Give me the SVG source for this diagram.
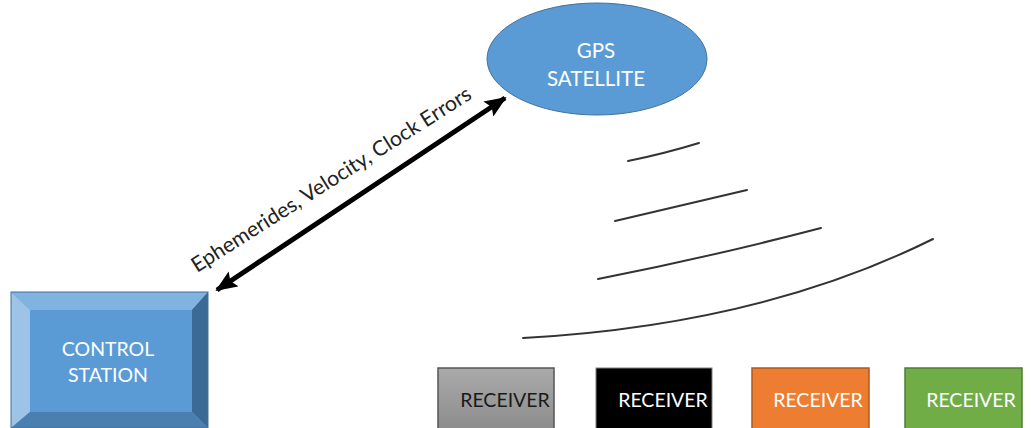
<svg xmlns="http://www.w3.org/2000/svg" width="1031" height="428" viewBox="0 0 1031 428">
<style>
.lbl{font-family:Lato,"Liberation Sans",sans-serif;font-size:19.5px;text-anchor:middle}
.w{fill:#ffffff}
.wave{fill:none;stroke:#333333;stroke-width:2;stroke-linecap:round}
</style>
<defs>
<marker id="ah" viewBox="0 0 22 18" refX="20" refY="9" markerWidth="22" markerHeight="18" markerUnits="userSpaceOnUse" orient="auto-start-reverse">
<path d="M0,0 L22,9 L0,18 L4,9 Z" fill="#000"/>
</marker>
<linearGradient id="gray" x1="0" y1="0" x2="0" y2="1">
<stop offset="0" stop-color="#aaaaaa"/>
<stop offset="1" stop-color="#8c8c8c"/>
</linearGradient>
</defs>
<rect width="1031" height="428" fill="#ffffff"/>

<g id="control-station">
<rect x="11" y="292" width="197" height="136" fill="#5b9bd5"/>
<polygon points="11,292 208,292 192,310 30,310" fill="#80b3e0"/>
<polygon points="11,292 30,310 30,412 11,428" fill="#9dc3e6"/>
<polygon points="208,292 208,428 192,412 192,310" fill="#3b6a94"/>
<polygon points="11,428 30,412 192,412 208,428" fill="#4a7fb0"/>
<rect x="30" y="310" width="162" height="102" fill="#5b9bd5"/>
<rect x="11" y="292" width="197" height="136" fill="none" stroke="#41719c" stroke-width="1"/>
<text class="lbl w" x="108" y="356">CONTROL</text>
<text class="lbl w" x="108" y="382">STATION</text>
</g>

<g id="gps-satellite">
<ellipse cx="597" cy="59" rx="110" ry="56" fill="#5b9bd5" stroke="#41719c" stroke-width="1"/>
<text class="lbl w" x="596" y="58" style="font-size:20.5px">GPS</text>
<text class="lbl w" x="596" y="86" style="font-size:20.5px">SATELLITE</text>
</g>

<g id="receiver-gray">
<rect x="438" y="368" width="116" height="62" fill="url(#gray)" stroke="#555555" stroke-width="1.5"/>
<text class="lbl" x="505" y="407" fill="#1a1a1a">RECEIVER</text>
</g>
<g id="receiver-black">
<rect x="596" y="368" width="116" height="62" fill="#000000" stroke="#7f7f7f" stroke-width="1"/>
<text class="lbl w" x="663" y="407">RECEIVER</text>
</g>
<g id="receiver-orange">
<rect x="752" y="368" width="117" height="62" fill="#ed7d31" stroke="#ae5a21" stroke-width="1.5"/>
<text class="lbl w" x="818" y="407">RECEIVER</text>
</g>
<g id="receiver-green">
<rect x="905" y="368" width="117" height="62" fill="#70ad47" stroke="#507e32" stroke-width="1.5"/>
<text class="lbl w" x="971" y="407">RECEIVER</text>
</g>

<g id="connectors">
<line x1="217" y1="290" x2="505" y2="98" stroke="#000" stroke-width="5" marker-start="url(#ah)" marker-end="url(#ah)"/>
<text transform="translate(197,273) rotate(-32.4)" font-family="Lato,'Liberation Sans',sans-serif" font-size="21" fill="#222" textLength="327" lengthAdjust="spacingAndGlyphs">Ephemerides, Velocity, Clock Errors</text>
</g>

<g id="waves">
<path class="wave" d="M628,161 Q663,154 699,143"/>
<path class="wave" d="M615,221 Q680,206 747,190"/>
<path class="wave" d="M598,279 Q710,257 821,228"/>
<path class="wave" d="M523,338 Q760,325 933,239"/>
</g>
</svg>
